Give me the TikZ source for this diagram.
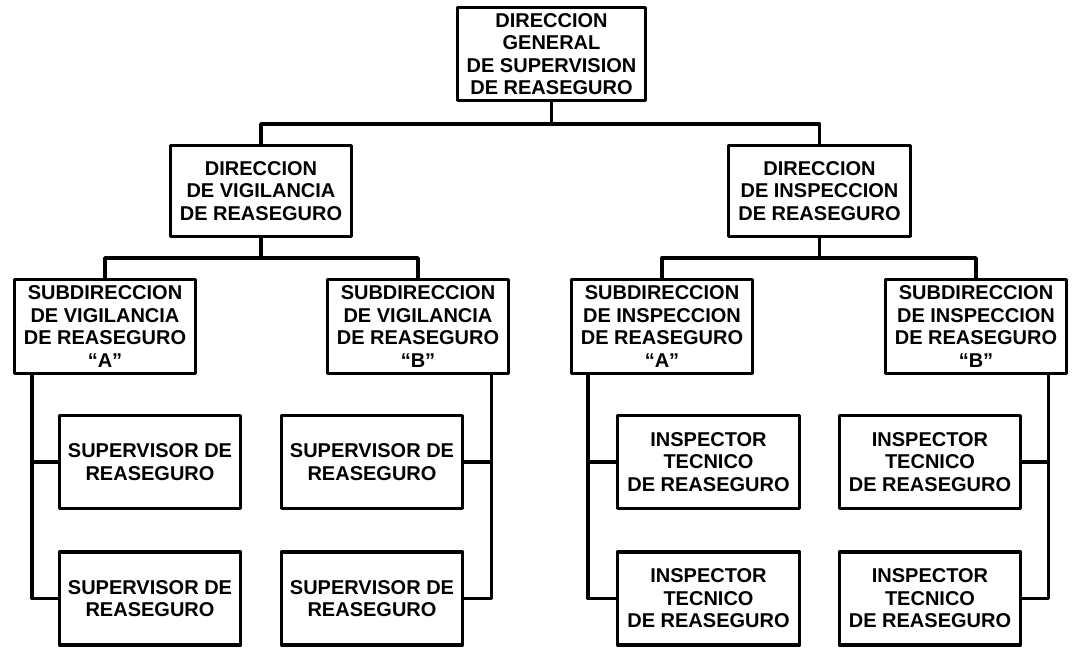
\documentclass[tikz,border=0pt]{standalone}
\usepackage{fontspec}
\setmainfont{Liberation Sans}
\begin{document}
\begin{tikzpicture}[x=1pt,y=-1pt,
  box/.style={draw=black,line width=3.4pt,line join=round,fill=white,align=center,
    inner sep=0pt,font=\fontsize{20}{22.5}\selectfont\bfseries},
  conn/.style={draw=black,line width=3.4pt,line join=round}]
\useasboundingbox (0,0) rectangle (1089,653);
% level 1
\node[box,minimum width=188pt,minimum height=93pt] (top) at (551.5,54) {DIRECCION\\GENERAL\\DE SUPERVISION\\DE REASEGURO};
% level 2
\node[box,minimum width=181pt,minimum height=91pt] (dv) at (261,191) {DIRECCION\\DE VIGILANCIA\\DE REASEGURO};
\node[box,minimum width=182pt,minimum height=91pt] (di) at (819.5,191) {DIRECCION\\DE INSPECCION\\DE REASEGURO};
% level 3
\node[box,minimum width=181pt,minimum height=94pt] (sva) at (105,326.5) {SUBDIRECCION\\DE VIGILANCIA\\DE REASEGURO\\“A”};
\node[box,minimum width=181pt,minimum height=94pt] (svb) at (418,326.5) {SUBDIRECCION\\DE VIGILANCIA\\DE REASEGURO\\“B”};
\node[box,minimum width=181pt,minimum height=94pt] (sia) at (662,326.5) {SUBDIRECCION\\DE INSPECCION\\DE REASEGURO\\“A”};
\node[box,minimum width=181pt,minimum height=94pt] (sib) at (976,326.5) {SUBDIRECCION\\DE INSPECCION\\DE REASEGURO\\“B”};
% level 4
\node[box,minimum width=181pt,minimum height=93pt] (sa1) at (150,462) {SUPERVISOR DE\\REASEGURO};
\node[box,minimum width=181pt,minimum height=93pt] (sa2) at (150,598.5) {SUPERVISOR DE\\REASEGURO};
\node[box,minimum width=181pt,minimum height=93pt] (sb1) at (372,462) {SUPERVISOR DE\\REASEGURO};
\node[box,minimum width=181pt,minimum height=93pt] (sb2) at (372,598.5) {SUPERVISOR DE\\REASEGURO};
\node[box,minimum width=182pt,minimum height=93pt] (ia1) at (708.5,462) {INSPECTOR\\TECNICO\\DE REASEGURO};
\node[box,minimum width=182pt,minimum height=93pt] (ia2) at (708.5,598.5) {INSPECTOR\\TECNICO\\DE REASEGURO};
\node[box,minimum width=181pt,minimum height=93pt] (ib1) at (930,462) {INSPECTOR\\TECNICO\\DE REASEGURO};
\node[box,minimum width=181pt,minimum height=93pt] (ib2) at (930,598.5) {INSPECTOR\\TECNICO\\DE REASEGURO};
% buses
\coordinate (b1) at (551.5,124);
\coordinate (b2) at (261,258);
\coordinate (b3) at (819.5,258);
\draw[conn] (top.south) -- (b1);
\draw[conn] (dv.north) |- (b1) -| (di.north);
\draw[conn] (dv.south) -- (b2);
\draw[conn] (sva.north) |- (b2) -| (svb.north);
\draw[conn] (di.south) -- (b3);
\draw[conn] (sia.north) |- (b3) -| (sib.north);
% leaf connectors
\coordinate (va) at ([xshift=19pt]sva.south west);
\coordinate (vb) at ([xshift=-19pt]svb.south east);
\coordinate (ia) at ([xshift=18pt]sia.south west);
\coordinate (ib) at ([xshift=-20pt]sib.south east);
\draw[conn] (va) |- (sa1.west);
\draw[conn] (va) |- (sa2.west);
\draw[conn] (vb) |- (sb1.east);
\draw[conn] (vb) |- (sb2.east);
\draw[conn] (ia) |- (ia1.west);
\draw[conn] (ia) |- (ia2.west);
\draw[conn] (ib) |- (ib1.east);
\draw[conn] (ib) |- (ib2.east);
\end{tikzpicture}
\end{document}
